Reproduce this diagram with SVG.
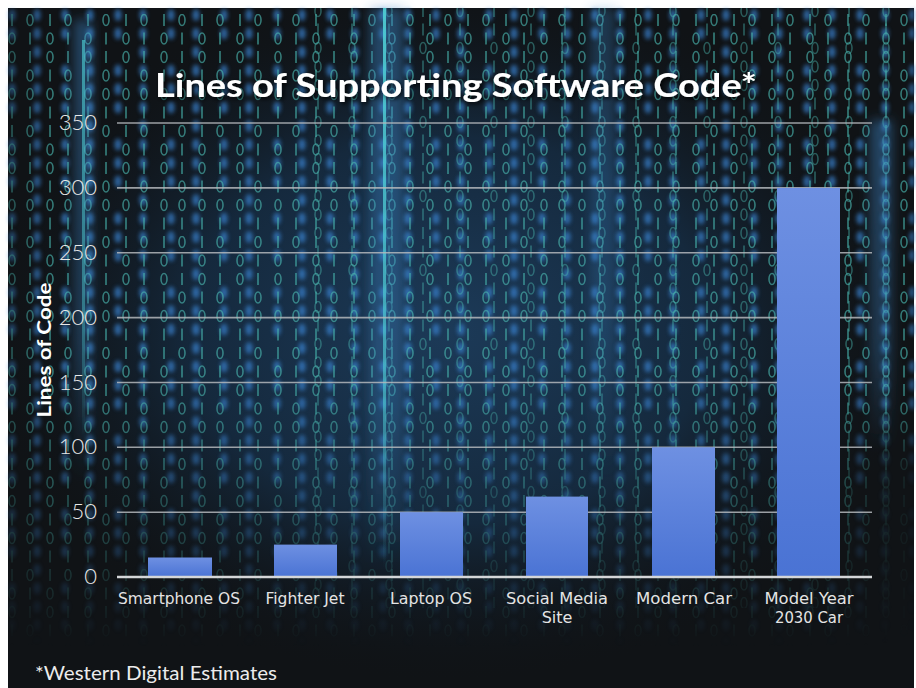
<svg xmlns="http://www.w3.org/2000/svg" width="916" height="688" viewBox="0 0 916 688">
<defs>
<style>
.grid{stroke:#b4b8bc;stroke-width:1.6;opacity:0.85}
.axis{stroke:#d4d6d8;stroke-width:2.6}
.bar{fill:url(#barGrad)}
.tick{font-family:Lato,"DejaVu Sans",sans-serif;font-weight:300;font-size:22px;fill:#e8e8e8;text-anchor:end}
.cat{font-family:"DejaVu Sans",sans-serif;font-size:16px;fill:#e4e4e4;text-anchor:middle}
.ttl{font-family:Lato,"DejaVu Sans",sans-serif;font-weight:bold;fill:#ffffff}
.d1{stroke:#49b3ac;stroke-width:1.7;fill:none}
.d0{stroke:#49b3ac;stroke-width:1.6;fill:none}
.blob{fill:#3a86d6}
</style>
<linearGradient id="barGrad" x1="0" y1="0" x2="0" y2="1">
<stop offset="0" stop-color="#6e90e2"/>
<stop offset="1" stop-color="#4a73d4"/>
</linearGradient>
<radialGradient id="navy" cx="450" cy="330" r="470" gradientUnits="userSpaceOnUse" gradientTransform="translate(450 330) scale(1 0.75) translate(-450 -330)">
<stop offset="0" stop-color="#1c3a58"/>
<stop offset="0.55" stop-color="#15293d"/>
<stop offset="1" stop-color="#0f1317" stop-opacity="0"/>
</radialGradient>
<linearGradient id="fadeV" x1="0" y1="0" x2="0" y2="1">
<stop offset="0" stop-color="#fff"/>
<stop offset="0.55" stop-color="#fff"/>
<stop offset="0.8" stop-color="#fff" stop-opacity="0.4"/>
<stop offset="0.94" stop-color="#fff" stop-opacity="0"/>
</linearGradient>
<linearGradient id="streakFade" x1="0" y1="0" x2="0" y2="1">
<stop offset="0" stop-color="#4fd0d6" stop-opacity="0.9"/>
<stop offset="0.7" stop-color="#4fd0d6" stop-opacity="0.6"/>
<stop offset="1" stop-color="#4fd0d6" stop-opacity="0"/>
</linearGradient>
<linearGradient id="glowFade" x1="0" y1="0" x2="0" y2="1">
<stop offset="0" stop-color="#3d86c8" stop-opacity="0.45"/>
<stop offset="0.7" stop-color="#3d86c8" stop-opacity="0.3"/>
<stop offset="1" stop-color="#3d86c8" stop-opacity="0"/>
</linearGradient>
<filter id="maskBlur" x="-50%" y="-50%" width="200%" height="200%"><feGaussianBlur stdDeviation="25"/></filter>
<mask id="digitMask" maskUnits="userSpaceOnUse" x="0" y="0" width="916" height="688">
<rect x="0" y="0" width="916" height="688" fill="url(#fadeV)"/>
<rect x="860" y="440" width="100" height="300" fill="#000" opacity="0.8" filter="url(#maskBlur)"/>
<rect x="-40" y="-40" width="60" height="760" fill="#000" opacity="0.6" filter="url(#maskBlur)"/>
</mask>
<pattern id="patA" width="38" height="111" patternUnits="userSpaceOnUse" x="3" y="14">
<line class="d1" x1="9" y1="0" x2="9" y2="12"/>
<ellipse class="d0" cx="9" cy="24.5" rx="3" ry="5.5"/>
<ellipse class="d0" cx="9" cy="43" rx="3" ry="5.5"/>
<line class="d1" x1="9" y1="55.5" x2="9" y2="67.5"/>
<ellipse class="d0" cx="9" cy="80" rx="3" ry="5.5"/>
<line class="d1" x1="9" y1="92.5" x2="9" y2="104.5"/>
<ellipse class="d0" cx="27" cy="6" rx="3" ry="5.5"/>
<line class="d1" x1="27" y1="18.5" x2="27" y2="30.5"/>
<line class="d1" x1="27" y1="37" x2="27" y2="49"/>
<ellipse class="d0" cx="27" cy="61.5" rx="3" ry="5.5"/>
<ellipse class="d0" cx="27" cy="80" rx="3" ry="5.5"/>
<line class="d1" x1="27" y1="92.5" x2="27" y2="104.5"/>
</pattern>
<pattern id="patC" width="71" height="74" patternUnits="userSpaceOnUse" x="20" y="5">
<ellipse class="d0" cx="14" cy="6" rx="3" ry="5.5"/>
<line class="d1" x1="14" y1="18.5" x2="14" y2="30.5"/>
<ellipse class="d0" cx="14" cy="43" rx="3" ry="5.5"/>
<ellipse class="d0" cx="14" cy="61.5" rx="3" ry="5.5"/>
<line class="d1" x1="48" y1="0" x2="48" y2="12"/>
<line class="d1" x1="48" y1="18.5" x2="48" y2="30.5"/>
<ellipse class="d0" cx="48" cy="43" rx="3" ry="5.5"/>
<line class="d1" x1="48" y1="55.5" x2="48" y2="67.5"/>
</pattern>
<pattern id="patB" width="53" height="74" patternUnits="userSpaceOnUse" x="0" y="9">
<ellipse class="blob" cx="12" cy="6" rx="3.6" ry="6"/>
<ellipse class="blob" cx="12" cy="24.5" rx="3.6" ry="6"/>
<ellipse class="blob" cx="12" cy="61.5" rx="3.6" ry="6"/>
<ellipse class="blob" cx="37" cy="6" rx="3.6" ry="6"/>
<ellipse class="blob" cx="37" cy="43" rx="3.6" ry="6"/>
<ellipse class="blob" cx="37" cy="61.5" rx="3.6" ry="6"/>
<ellipse class="blob" cx="37" cy="24.5" rx="3.6" ry="6"/>
</pattern>
<filter id="blur2" x="-10%" y="-10%" width="120%" height="120%"><feGaussianBlur stdDeviation="2"/></filter>
<filter id="blur6" x="-50%" y="-10%" width="200%" height="120%"><feGaussianBlur stdDeviation="6"/></filter>
<filter id="soft" x="-10%" y="-10%" width="120%" height="120%"><feGaussianBlur stdDeviation="0.5"/></filter>
<filter id="shadow" x="-5%" y="-30%" width="110%" height="160%"><feDropShadow dx="2" dy="2" stdDeviation="2" flood-color="#000" flood-opacity="0.85"/></filter>
</defs>

<g id="background">
<rect x="0" y="0" width="916" height="688" fill="#ffffff"/>
<rect x="8" y="8" width="906" height="680" fill="#101316"/>
<rect x="8" y="8" width="906" height="680" fill="url(#navy)"/>
<g mask="url(#digitMask)">
<rect x="8" y="8" width="906" height="680" fill="url(#patB)" filter="url(#blur2)" opacity="0.7"/>
<rect x="8" y="8" width="906" height="680" fill="url(#patA)" filter="url(#soft)" opacity="0.65"/>
<rect x="300" y="8" width="614" height="600" fill="url(#patC)" filter="url(#soft)" opacity="0.45"/>
</g>
<rect x="370" y="8" width="34" height="560" fill="url(#glowFade)" filter="url(#blur6)"/>
<rect x="383" y="8" width="3" height="560" fill="url(#streakFade)" filter="url(#soft)"/>
<rect x="74" y="20" width="18" height="460" fill="url(#glowFade)" filter="url(#blur6)"/>
<rect x="82" y="40" width="3" height="400" fill="url(#streakFade)" opacity="0.7" filter="url(#soft)"/>
<rect x="870" y="120" width="22" height="330" fill="url(#glowFade)" filter="url(#blur6)"/>
<rect x="590" y="8" width="26" height="470" fill="url(#glowFade)" filter="url(#blur6)" opacity="0.7"/>
</g>

<g id="gridlines">
<line class="grid" x1="117" y1="123" x2="872" y2="123"/>
<line class="grid" x1="117" y1="187.9" x2="872" y2="187.9"/>
<line class="grid" x1="117" y1="252.7" x2="872" y2="252.7"/>
<line class="grid" x1="117" y1="317.6" x2="872" y2="317.6"/>
<line class="grid" x1="117" y1="382.5" x2="872" y2="382.5"/>
<line class="grid" x1="117" y1="447.3" x2="872" y2="447.3"/>
<line class="grid" x1="117" y1="512.2" x2="872" y2="512.2"/>
</g>

<g id="y-axis-labels">
<text class="tick" x="97" y="130">350</text>
<text class="tick" x="97" y="195">300</text>
<text class="tick" x="97" y="260">250</text>
<text class="tick" x="97" y="325">200</text>
<text class="tick" x="97" y="390">150</text>
<text class="tick" x="97" y="454">100</text>
<text class="tick" x="97" y="519">50</text>
<text class="tick" x="97" y="584">0</text>
</g>

<g id="bar-smartphone-os">
<rect class="bar" x="148" y="557.5" width="64" height="19.5"/>
<text class="cat" x="179" y="604" textLength="122" lengthAdjust="spacingAndGlyphs">Smartphone OS</text>
</g>
<g id="bar-fighter-jet">
<rect class="bar" x="274" y="544.6" width="63" height="32.4"/>
<text class="cat" x="305" y="604" textLength="79" lengthAdjust="spacingAndGlyphs">Fighter Jet</text>
</g>
<g id="bar-laptop-os">
<rect class="bar" x="400" y="512.2" width="63" height="64.8"/>
<text class="cat" x="431" y="604" textLength="82" lengthAdjust="spacingAndGlyphs">Laptop OS</text>
</g>
<g id="bar-social-media-site">
<rect class="bar" x="526" y="496.6" width="62" height="80.4"/>
<text class="cat" x="557" y="604" textLength="102" lengthAdjust="spacingAndGlyphs">Social Media</text>
<text class="cat" x="557" y="623">Site</text>
</g>
<g id="bar-modern-car">
<rect class="bar" x="652" y="447.3" width="63" height="129.7"/>
<text class="cat" x="684" y="604" textLength="96" lengthAdjust="spacingAndGlyphs">Modern Car</text>
</g>
<g id="bar-model-year-2030-car">
<rect class="bar" x="777" y="187.9" width="63" height="389.1"/>
<text class="cat" x="809" y="604" textLength="89" lengthAdjust="spacingAndGlyphs">Model Year</text>
<text class="cat" x="809" y="623" textLength="68" lengthAdjust="spacingAndGlyphs">2030 Car</text>
</g>

<g id="x-axis">
<line class="axis" x1="117" y1="577" x2="872" y2="577"/>
</g>

<text id="title" class="ttl" x="155" y="97" font-size="33" textLength="602" lengthAdjust="spacingAndGlyphs" filter="url(#shadow)">Lines of Supporting Software Code*</text>
<text id="y-axis-title" class="ttl" font-size="19" text-anchor="middle" transform="translate(51 350) rotate(-90)" textLength="135" lengthAdjust="spacingAndGlyphs">Lines of Code</text>
<text id="footnote" x="35" y="680" font-family="Lato,'DejaVu Sans',sans-serif" font-size="20" fill="#ececec" textLength="242" lengthAdjust="spacingAndGlyphs">*Western Digital Estimates</text>
</svg>
